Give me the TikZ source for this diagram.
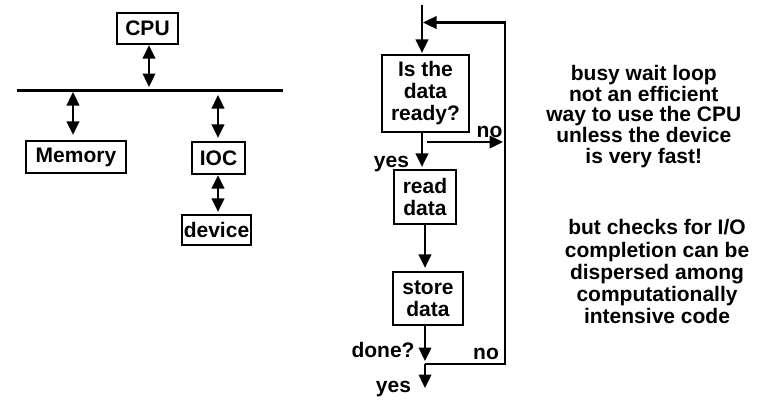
\documentclass[tikz,border=0pt]{standalone}
\usepackage{fontspec}
\setmainfont{Liberation Sans}
\usetikzlibrary{arrows.meta}
\begin{document}
\begin{tikzpicture}[x=1pt,y=-1pt,
  font=\fontsize{21}{22}\selectfont\bfseries,
  box/.style={draw, line width=2.2pt, inner sep=0pt, align=center},
  link/.style={line width=2.4pt},
  tip/.style={-{Triangle[length=13.5pt,width=12.5pt]}},
  both/.style={{Triangle[length=13.5pt,width=12.5pt]}-{Triangle[length=13.5pt,width=12.5pt]}},
  lbl/.style={anchor=base, inner sep=0pt},
  note/.style={align=center, inner sep=0pt}]
\useasboundingbox (0,0) rectangle (762,400);

% ---- system bus with CPU, memory and I/O controller ----
\node[box, minimum width=61pt, minimum height=31pt] (cpu) at (147.5,28.5) {CPU};
\node[box, minimum width=100pt, minimum height=32pt] (mem) at (76,157) {Memory};
\node[box, minimum width=53pt, minimum height=32pt] (ioc) at (218.5,158) {IOC};
\node[box, minimum width=69pt, minimum height=30pt] (dev) at (216.5,230) {device};

\coordinate (busL) at (17,90.5);
\coordinate (busR) at (283,90.5);
\coordinate (tapC) at (149,87);
\coordinate (tapM) at (73,92);
\coordinate (tapI) at (218,95);
\draw[link] (busL) -- (busR);

\draw[link,both] (tapC |- cpu.south) -- (tapC);
\draw[link,both,shorten >=5pt] (tapM) -- (tapM |- mem.north);
\draw[link,both,shorten >=3pt] (tapI) -- (tapI |- ioc.north);
\draw[link,both,shorten >=2pt] (tapI |- ioc.south) -- (tapI |- dev.north);

% ---- polling loop flowchart ----
\node[box, minimum width=87pt, minimum height=77pt] (ready) at (425.5,93.5) {Is the\\data\\ready?};
\node[box, minimum width=62pt, minimum height=54pt] (read) at (425,197) {read\\data};
\node[box, minimum width=70pt, minimum height=53pt] (store) at (428,298.5) {store\\data};

\coordinate (start) at (422,5);
\coordinate (join) at (423,22.5);
\coordinate (loopTR) at (505,22.5);
\coordinate (loopBR) at (505,364);
\coordinate (merge) at (425,364);
\coordinate (doneTip) at (425,361);
\coordinate (exit) at (425,388);
\coordinate (noL) at (426.5,142);
\coordinate (noR) at (503,142);

\draw[link,tip,shorten >=1pt] (start) -- (start |- ready.north);
\draw[link,tip] (merge) -- (loopBR) -- (loopTR) -- (join);
\draw[link,tip] (noL) -- (noR);
\draw[link,tip,shorten >=2pt] (ready.south -| start) -- (read.north -| start);
\draw[link,tip,shorten >=3pt] (read.south -| merge) -- (store.north -| merge);
\draw[link,tip] (store.south -| merge) -- (doneTip);
\draw[link,tip] (merge) -- (exit);

\node[lbl] (noA) at (489.5,137) {no};
\node[lbl] (yesA) at (391.5,167) {yes};
\node[lbl] (done) at (383,357) {done?};
\node[lbl] (noB) at (486,359) {no};
\node[lbl] (yesB) at (393.5,392) {yes};

% ---- remarks ----
\node[note, font=\fontsize{21}{20.6}\selectfont\bfseries] (note1) at (643.8,116.4)
  {busy wait loop\\not an efficient\\way to use the CPU\\unless the device\\is very fast!};
\node[note, font=\fontsize{21}{22.25}\selectfont\bfseries] (note2) at (657,271.9)
  {but checks for I/O\\completion can be\\dispersed among\\computationally\\intensive code};
\end{tikzpicture}
\end{document}
